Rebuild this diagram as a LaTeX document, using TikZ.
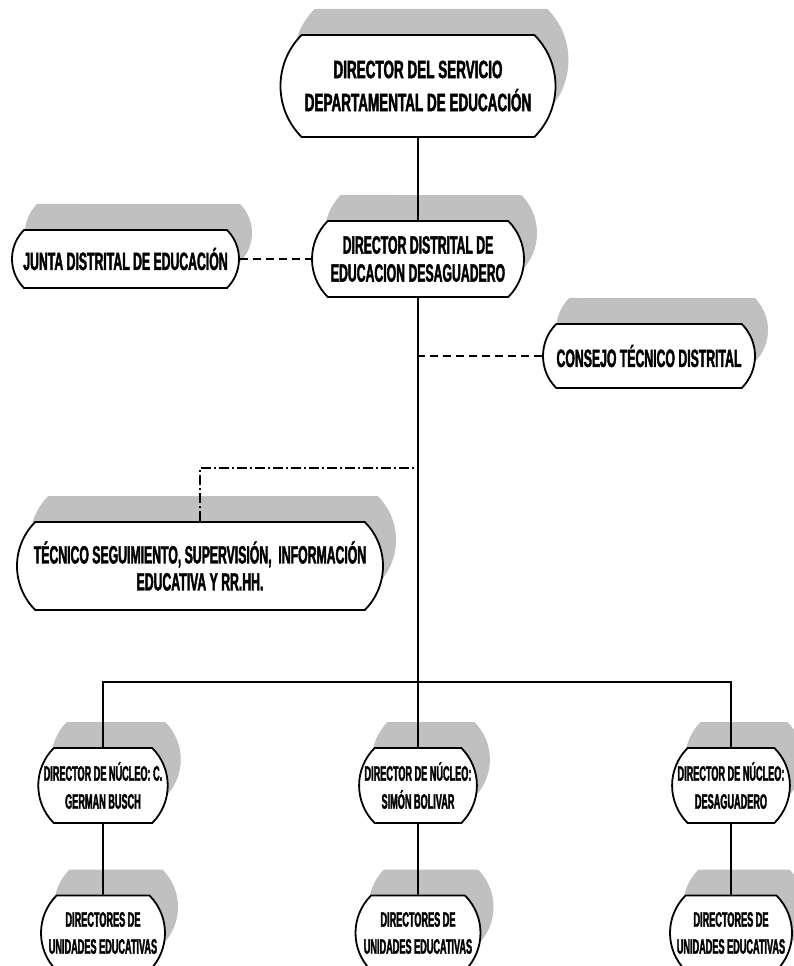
\documentclass[tikz,border=0pt]{standalone}
\usepackage{fontspec}
\setmainfont{Liberation Sans}
% condensed heavy faces for the box labels
\newfontfamily\fTop{Liberation Sans}[FakeStretch=0.54, FakeBold=1.6]
\newfontfamily\fMid{Liberation Sans}[FakeStretch=0.49, FakeBold=1.6]
\newfontfamily\fLow{Liberation Sans}[FakeStretch=0.435, FakeBold=1.6]
\usetikzlibrary{shapes.misc,shadows}
\definecolor{shade}{RGB}{192,192,192}

\tikzset{
  unit/.style={rounded rectangle, rounded rectangle arc length=90,
    draw=black, line width=1.8pt, fill=white, inner sep=0pt, align=center,
    general shadow={shadow xshift=13pt, shadow yshift=26pt, fill=shade}},
  bigtext/.style={font=\fTop\bfseries\fontsize{25}{33}\selectfont},
  midtext/.style={font=\fMid\bfseries\fontsize{25}{28}\selectfont},
  lowtext/.style={font=\fLow\bfseries\fontsize{21}{28}\selectfont},
  link/.style={line width=1.8pt, line cap=butt},
  dashlink/.style={link, dash pattern=on 8pt off 5pt},
  dotlink/.style={link, dash pattern=on 10pt off 3pt on 2pt off 3pt}
}

\begin{document}
\begin{tikzpicture}[x=1pt, y=-1pt]
\useasboundingbox (0,0) rectangle (794,966);
\fill[white] (0,0) rectangle (794,966);
\clip (0,0) rectangle (794,966);

% boxes
\node[unit, bigtext, minimum width=275pt, minimum height=102pt] (top) at (418,86)
  {DIRECTOR DEL SERVICIO\\DEPARTAMENTAL DE EDUCACIÓN};
\node[unit, midtext, minimum width=212pt, minimum height=76pt] (dist) at (418,259)
  {DIRECTOR DISTRITAL DE\\EDUCACION DESAGUADERO};
\node[unit, midtext, minimum width=227pt, minimum height=58pt] (junta) at (125.5,259)
  {JUNTA DISTRITAL DE EDUCACIÓN};
\node[unit, midtext, minimum width=212pt, minimum height=64pt] (cons) at (649,356)
  {CONSEJO TÉCNICO DISTRITAL};
\node[unit, midtext, font=\fMid\bfseries\fontsize{25}{27}\selectfont,
  minimum width=366pt, minimum height=88pt] (tec) at (200,566)
  {TÉCNICO SEGUIMIENTO, SUPERVISIÓN, \ INFORMACIÓN\\EDUCATIVA Y RR.HH.};

\node[unit, lowtext, minimum width=125pt, minimum height=75pt] (nucL) at (103,785.5)
  {DIRECTOR DE NÚCLEO: C.\\GERMAN BUSCH};
\node[unit, lowtext, minimum width=117pt, minimum height=75pt] (nucM) at (418,785.5)
  {DIRECTOR DE NÚCLEO:\\SIMÓN BOLIVAR};
\node[unit, lowtext, minimum width=116pt, minimum height=75pt] (nucR) at (731,785.5)
  {DIRECTOR DE NÚCLEO:\\DESAGUADERO};

\node[unit, lowtext, font=\fLow\bfseries\fontsize{21}{27}\selectfont,
  minimum width=124pt, minimum height=75pt] (uL) at (103,933)
  {DIRECTORES DE\\UNIDADES EDUCATIVAS};
\node[unit, lowtext, font=\fLow\bfseries\fontsize{21}{27}\selectfont,
  minimum width=125pt, minimum height=75pt] (uM) at (418,933)
  {DIRECTORES DE\\UNIDADES EDUCATIVAS};
\node[unit, lowtext, font=\fLow\bfseries\fontsize{21}{27}\selectfont,
  minimum width=122pt, minimum height=75pt] (uR) at (731,933)
  {DIRECTORES DE\\UNIDADES EDUCATIVAS};

% junction points on the main trunk
\coordinate (tap) at (418,468);
\coordinate (bus) at (418,682);

% connectors
\draw[link] (top) -- (dist);
\draw[link] (dist.south) -- (bus);
\draw[link] (nucL.north) |- (bus) -| (nucR.north);
\draw[link] (bus) -- (nucM.north);
\draw[link] (nucL) -- (uL);
\draw[link] (nucM) -- (uM);
\draw[link] (nucR) -- (uR);
\draw[dashlink] (junta.east) -- (dist.west);
\draw[dashlink] (cons.west) -- (cons.west -| dist.south);
\draw[dotlink] (tec.north) |- (tap);
\end{tikzpicture}
\end{document}
